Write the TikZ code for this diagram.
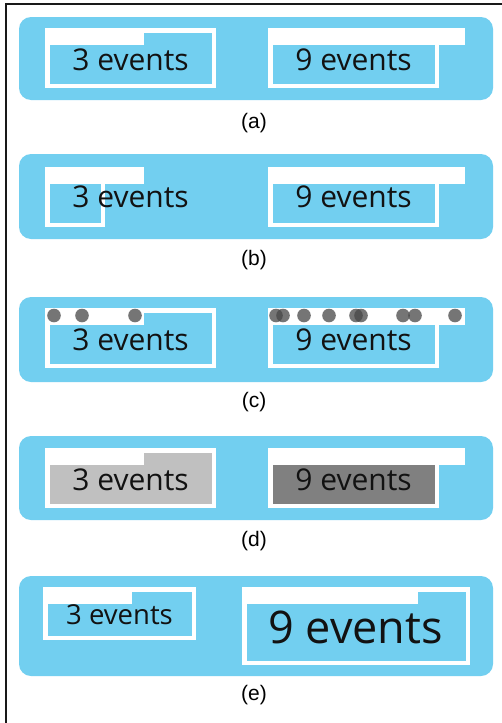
\documentclass[tikz,border=0pt]{standalone}
\usepackage{fontspec}
\setmainfont{Open Sans}
\newfontfamily\labelfont{Liberation Sans}
\definecolor{panelblue}{HTML}{72CFF0}
\definecolor{lightfill}{HTML}{C0C0C0}
\definecolor{darkfill}{HTML}{808080}
\newcommand{\evbox}[6]{%
  \fill[white] (#1,#2) rectangle (#3,#4);
  \fill[#6] (#1+4.5,#2+4.5) rectangle (#3-4.5,#4-4.5);
  \fill[white] (#1,#2) rectangle (#5,#2+16.5);
}
\begin{document}
\begin{tikzpicture}[x=1pt,y=-1pt,
  panel/.style={fill=panelblue, rounded corners=12pt},
  evtext/.style={inner sep=0pt, text=black!93, font=\fontsize{30}{31}\selectfont},
  plabel/.style={inner sep=0pt, font=\labelfont\fontsize{21}{23}\selectfont},
  dot/.style={fill=black!72, opacity=0.75}]
\useasboundingbox (0,0) rectangle (502,723);
\fill[white] (0,0) rectangle (502,723);
\draw[line width=2pt, black!90] (5.7,723) -- (5.7,3.8) -- (502,3.8);

% (a)
\fill[panel] (19,17) rectangle (493,100);
\evbox{45}{28}{216}{88}{144}{panelblue}
\evbox{268}{28}{439}{88}{465}{panelblue}
\node[evtext] (ta1) at (130.5,60) {3 events};
\node[evtext] (ta2) at (353.5,60) {9 events};
\node[plabel] (la) at (254,123) {(a)};

% (b)
\fill[panel] (19,154) rectangle (493,239);
\evbox{45}{167}{105}{227}{144}{panelblue}
\evbox{268}{167}{439}{227}{465}{panelblue}
\node[evtext] (tb1) at (130.5,197) {3 events};
\node[evtext] (tb2) at (353.5,197) {9 events};
\node[plabel] (lb) at (254,260) {(b)};

% (c)
\fill[panel] (19,297) rectangle (493,382);
\evbox{45}{308}{216}{368}{144}{panelblue}
\evbox{268}{308}{439}{368}{465}{panelblue}
\node[evtext] (tc1) at (130.5,340) {3 events};
\node[evtext] (tc2) at (353.5,340) {9 events};
\foreach \x in {54,82,135,276,283,304,329,356,361,403,415,455}
  \fill[dot] (\x,315.5) circle[radius=6.8pt];
\node[plabel] (lc) at (254,402) {(c)};

% (d)
\fill[panel] (19,436) rectangle (493,520);
\evbox{45}{448}{216}{508}{144}{lightfill}
\evbox{268}{448}{439}{508}{465}{darkfill}
\node[evtext] (td1) at (130.5,480) {3 events};
\node[evtext] (td2) at (353.5,480) {9 events};
\node[plabel] (ld) at (254,541) {(d)};

% (e)
\fill[panel] (19,576) rectangle (493,676);
\evbox{43}{587}{196}{640}{132}{panelblue}
\evbox{242}{587}{470}{665}{418}{panelblue}
\node[evtext, font=\fontsize{27.5}{29}\selectfont] (te1) at (119.5,614.5) {3 events};
\node[evtext, font=\fontsize{45}{47}\selectfont] (te2) at (355.5,627.5) {9 events};
\node[plabel] (le) at (254,695) {(e)};
\end{tikzpicture}
\end{document}
